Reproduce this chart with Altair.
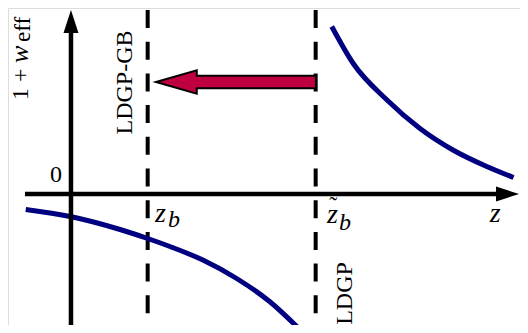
import altair as alt
import pandas as pd

# ---- values (z, 1 + w_eff), schematic units ----
upper_z = [3.40, 3.68, 4.12, 4.55, 4.98, 5.42, 5.77]
upper_w = [3.35, 2.61, 1.88, 1.31, 0.88, 0.55, 0.33]
lower_z = [-0.59, -0.01, 0.64, 1.00, 1.29, 1.72, 2.16, 2.59, 2.99]
lower_w = [-0.31, -0.45, -0.71, -0.89, -1.05, -1.32, -1.69, -2.15, -2.72]

z_marks = [1.0, 3.19]            # z_b and tilde z_b (dashed lines)
z_domain = [-0.821, 5.854]
w_domain = [-2.62, 3.72]

# axis extents
x_axis_z = [-0.60, 5.60]
y_axis_w = [-2.62, 3.30]
dash_top = 3.68

# arrow heads / big arrow anchors
yhead = {"z": 0.0, "w": 3.45}
xhead = {"z": 5.691, "w": 0.0}
big_arrow = {"z": 2.151, "w": 2.24}

# labels
up_text = ["0"]
up_z = [-0.196]
up_w = [0.24]

rot_text = ["LDGP-GB", "LDGP"]
rot_z = [0.795, 3.664]
rot_w = [2.23, -1.99]

it_text = ["z", "b", "z", "b", "z"]
it_z = [1.095, 1.264, 3.338, 3.494, 5.46]
it_w = [-0.56, -0.66, -0.58, -0.72, -0.56]
it_size = [28, 24, 28, 24, 28]

NAVY = "#000080"
PURPLE = "#BF0040"
FONT = "'Liberation Serif', 'Times New Roman', serif"

xs = alt.Scale(domain=z_domain, nice=False, zero=False)
ys = alt.Scale(domain=w_domain, nice=False, zero=False)
X = lambda f="z": alt.X(f"{f}:Q", scale=xs, axis=None)
Y = lambda f="w": alt.Y(f"{f}:Q", scale=ys, axis=None)

curves = pd.DataFrame(
    {"z": upper_z + lower_z, "w": upper_w + lower_w,
     "branch": ["up"] * len(upper_z) + ["low"] * len(lower_z)}
)
curve_layer = alt.Chart(curves).mark_line(
    color=NAVY, strokeWidth=5, interpolate="monotone", strokeCap="butt", clip=True
).encode(x=X(), y=Y(), detail="branch:N")

dashed = alt.Chart(pd.DataFrame({"z": z_marks, "top": [dash_top] * 2,
                                 "bot": [w_domain[0]] * 2})).mark_rule(
    color="black", strokeWidth=4, strokeDash=[18, 13.7]
).encode(x=X(), y=Y("top"), y2="bot:Q")

xaxis = alt.Chart(pd.DataFrame({"z": [x_axis_z[0]], "z2": [x_axis_z[1]], "w": [0.0]})).mark_rule(
    color="black", strokeWidth=4.5
).encode(x=X(), x2="z2:Q", y=Y())

yaxis = alt.Chart(pd.DataFrame({"z": [0.0], "w": [y_axis_w[0]], "w2": [y_axis_w[1]]})).mark_rule(
    color="black", strokeWidth=4.5
).encode(x=X(), y=Y(), y2="w2:Q")

yhead_layer = alt.Chart(pd.DataFrame([yhead])).mark_point(
    shape="M0,-1L0.65,1L-0.65,1Z", size=529, filled=True, color="black", opacity=1
).encode(x=X(), y=Y())

xhead_layer = alt.Chart(pd.DataFrame([xhead])).mark_point(
    shape="M1,0L-1,-0.65L-1,0.65Z", size=529, filled=True, color="black", opacity=1
).encode(x=X(), y=Y())

arrow_layer = alt.Chart(pd.DataFrame([big_arrow])).mark_point(
    shape="M-1,0L-0.49,-0.146L-0.49,-0.078L1,-0.078L1,0.078L-0.49,0.078L-0.49,0.146Z",
    size=25600, filled=True, fill=PURPLE, stroke="black", strokeWidth=2,
    opacity=1, strokeJoin="miter"
).encode(x=X(), y=Y())

up_layer = alt.Chart(pd.DataFrame({"t": up_text, "z": up_z, "w": up_w})).mark_text(
    font=FONT, fontSize=24, align="center", baseline="alphabetic", color="black"
).encode(x=X(), y=Y(), text="t:N")

rot_layer = alt.Chart(pd.DataFrame({"t": rot_text, "z": rot_z, "w": rot_w})).mark_text(
    font=FONT, fontSize=24, align="center", baseline="alphabetic", angle=270, color="black"
).encode(x=X(), y=Y(), text="t:N")

it_layer = alt.Chart(pd.DataFrame({"t": it_text, "z": it_z, "w": it_w, "s": it_size})).mark_text(
    font=FONT, fontStyle="italic", align="left", baseline="alphabetic", color="black"
).encode(x=X(), y=Y(), text="t:N", size=alt.Size("s:Q", scale=None, legend=None))

tilde_layer = alt.Chart(pd.DataFrame({"t": ["\u02dc"], "z": [3.42], "w": [-0.37]})).mark_text(
    font=FONT, fontSize=24, align="center", baseline="alphabetic", color="black"
).encode(x=X(), y=Y(), text="t:N")

# y-axis title 1 + w_eff (rotated)
title1 = alt.Chart(pd.DataFrame({"t": ["1 + "], "z": [-0.561], "w": [1.88]})).mark_text(
    font=FONT, fontSize=24, align="left", baseline="alphabetic", angle=270, color="black"
).encode(x=X(), y=Y(), text="t:N")
title2 = alt.Chart(pd.DataFrame({"t": ["w"], "z": [-0.561], "w": [2.62]})).mark_text(
    font=FONT, fontSize=26, fontStyle="italic", align="left", baseline="alphabetic",
    angle=270, color="black"
).encode(x=X(), y=Y(), text="t:N")
title3 = alt.Chart(pd.DataFrame({"t": ["eff"], "z": [-0.53], "w": [3.04]})).mark_text(
    font=FONT, fontSize=23, align="left", baseline="alphabetic", angle=270, color="black"
).encode(x=X(), y=Y(), text="t:N")

chart = alt.layer(
    dashed, curve_layer, xaxis, yaxis, yhead_layer, xhead_layer, arrow_layer,
    up_layer, rot_layer, it_layer, tilde_layer, title1, title2, title3
).properties(
    width=512, height=317, padding=0, autosize=alt.AutoSizeParams(type="none")
).configure_view(stroke=None).configure(background="white")

chart.save("out.html", embed_options={"renderer": "svg", "actions": False})
